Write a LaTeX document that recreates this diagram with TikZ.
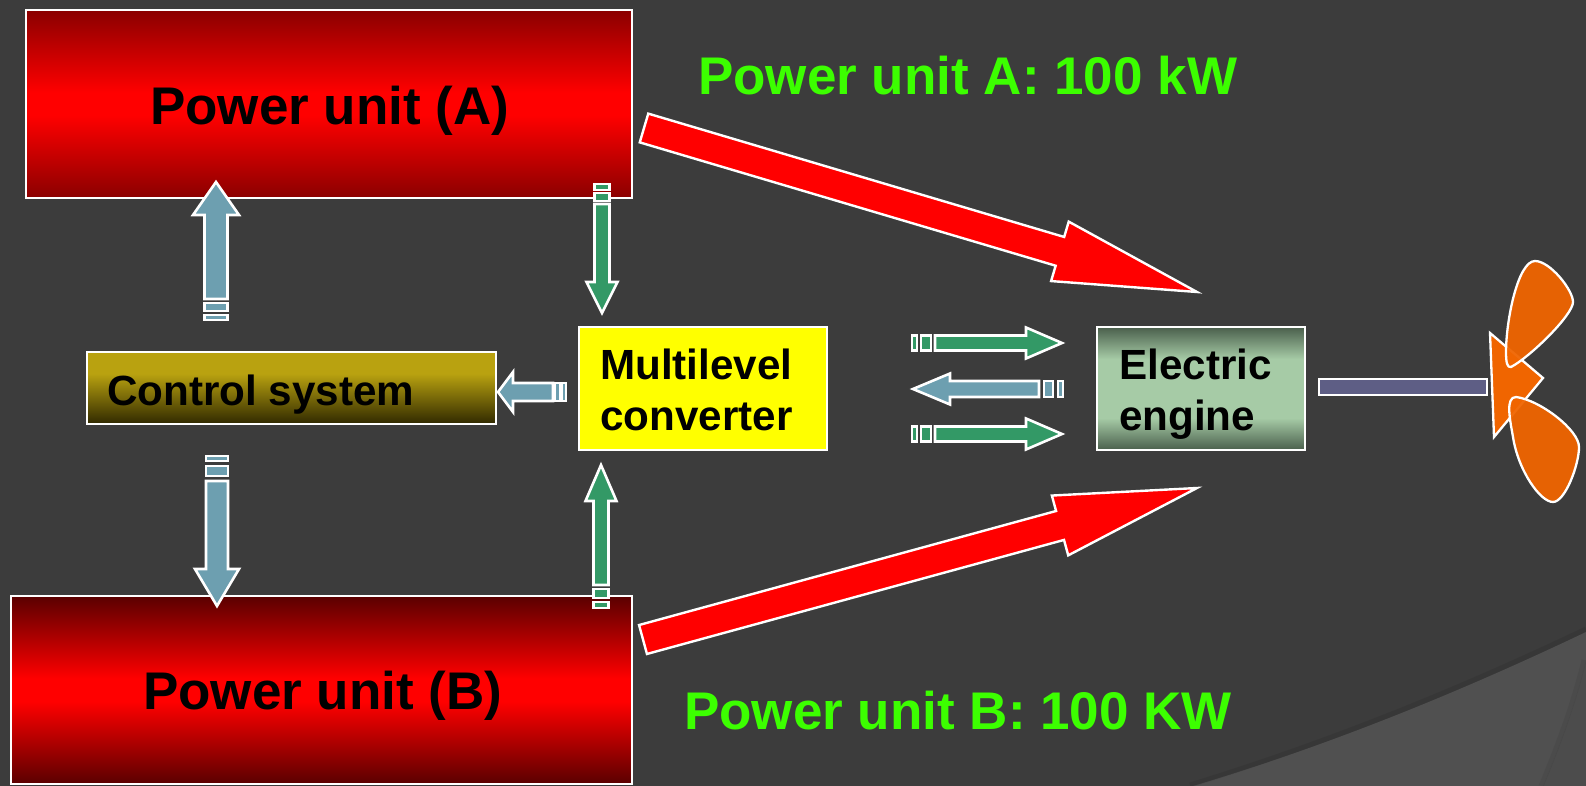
\documentclass[tikz,border=0pt]{standalone}
\usepackage{fontspec}
\setmainfont{Liberation Sans}
\usetikzlibrary{calc}
\definecolor{bg}{HTML}{3C3C3C}
\definecolor{bgfold}{HTML}{505050}
\definecolor{bgfoldb}{HTML}{4C4C4C}
\definecolor{arrowgreen}{HTML}{339966}
\definecolor{arrowblue}{HTML}{6D9FB0}
\definecolor{shaftcol}{HTML}{5E5E85}
\definecolor{propcol}{HTML}{F06500}
\definecolor{labelgreen}{HTML}{3CFF00}
\definecolor{pureyellow}{HTML}{FFFF00}
\definecolor{purered}{HTML}{FF0000}
\definecolor{redA}{HTML}{8A0000}
\definecolor{redB}{HTML}{5A0000}
\definecolor{goldtop}{HTML}{B9A210}
\definecolor{goldbot}{HTML}{302900}
\definecolor{engedge}{HTML}{4A5F4C}
\definecolor{engmid}{HTML}{A6CBA6}
\pgfdeclareverticalshading{shadeA}{100bp}{color(0bp)=(redA); color(25bp)=(redA); color(47bp)=(purered); color(53bp)=(purered); color(75bp)=(redA); color(100bp)=(redA)}
\pgfdeclareverticalshading{shadeB}{100bp}{color(0bp)=(redB); color(25bp)=(redB); color(47bp)=(purered); color(53bp)=(purered); color(75bp)=(redB); color(100bp)=(redB)}
\pgfdeclareverticalshading{shadeCtl}{100bp}{color(0bp)=(goldbot); color(25bp)=(goldbot); color(60bp)=(goldtop); color(75bp)=(goldtop); color(100bp)=(goldtop)}
\pgfdeclareverticalshading{shadeEng}{100bp}{color(0bp)=(engedge); color(25bp)=(engedge); color(38bp)=(engmid); color(62bp)=(engmid); color(75bp)=(engedge); color(100bp)=(engedge)}
\tikzset{
  boxnode/.style={draw=white,line width=2.8pt,inner sep=0pt,outer sep=0pt,anchor=north west,minimum width=#1},
  thinoutline/.style={draw=white,line width=2.6pt,line join=miter},
  greenfill/.style={thinoutline,fill=arrowgreen},
  bluefill/.style={thinoutline,fill=arrowblue},
  redfill/.style={draw=white,line width=2.4pt,fill=purered,line join=miter},
  bigtext/.style={font=\fontsize{53}{60}\selectfont\bfseries,anchor=base west,inner sep=0pt},
  midtext/.style={font=\fontsize{42.2}{50.5}\selectfont\bfseries,anchor=base west,inner sep=0pt,align=left},
  blade/.style={draw=white,line width=2.3pt,fill=propcol,fill opacity=.95,line join=round},
}
% style, from, to, shaft half, head half, head length, end of 1st bit, start of 2nd bit, end of 2nd bit
\newcommand{\segarrow}[9]{%
  \pgfmathsetmacro{\mainstart}{#9+(#8-#7)}%
  \path[#1]
    ($(#2)!\mainstart pt!(#3)!#4pt!90:(#3)$) --
    ($(#3)!#6pt!(#2)!#4pt!90:(#3)$) --
    ($(#3)!#6pt!(#2)!#5pt!90:(#3)$) -- (#3) --
    ($(#3)!#6pt!(#2)!#5pt!-90:(#3)$) --
    ($(#3)!#6pt!(#2)!#4pt!-90:(#3)$) --
    ($(#2)!\mainstart pt!(#3)!#4pt!-90:(#3)$) -- cycle;
  \path[#1]
    ($(#2)!#8pt!(#3)!#4pt!90:(#3)$) -- ($(#2)!#9pt!(#3)!#4pt!90:(#3)$) --
    ($(#2)!#9pt!(#3)!#4pt!-90:(#3)$) -- ($(#2)!#8pt!(#3)!#4pt!-90:(#3)$) -- cycle;
  \path[#1]
    ($(#2)!#4pt!90:(#3)$) -- ($(#2)!#7pt!(#3)!#4pt!90:(#3)$) --
    ($(#2)!#7pt!(#3)!#4pt!-90:(#3)$) -- ($(#2)!#4pt!-90:(#3)$) -- cycle;
}
% style, from, to, shaft half, head half, head length
\newcommand{\solidarrow}[6]{%
  \path[#1]
    ($(#2)!#4pt!90:(#3)$) --
    ($(#3)!#6pt!(#2)!#4pt!90:(#3)$) --
    ($(#3)!#6pt!(#2)!#5pt!90:(#3)$) -- (#3) --
    ($(#3)!#6pt!(#2)!#5pt!-90:(#3)$) --
    ($(#3)!#6pt!(#2)!#4pt!-90:(#3)$) --
    ($(#2)!#4pt!-90:(#3)$) -- cycle;
}
\begin{document}
\begin{tikzpicture}[x=1pt,y=-1pt]
\useasboundingbox (0,0) rectangle (1586,786);
\fill[bg] (0,0) rectangle (1586,786);
% corner folds of the background
\fill[bgfold] (1193,786) .. controls (1330,745) and (1460,692) .. (1586,632) -- (1586,786) -- cycle;
\draw[black,opacity=.07,line width=5pt] (1190,785) .. controls (1330,742) and (1460,689) .. (1586,629);
\fill[bgfoldb] (1543,786) .. controls (1560,745) and (1575,705) .. (1586,660) -- (1586,786) -- cycle;
\draw[black,opacity=.05,line width=5pt] (1541,786) .. controls (1558,745) and (1573,705) .. (1584,660);
% boxes
\node[boxnode=606pt,minimum height=188pt,shading=shadeA] (unitA) at (26,10) {};
\node[boxnode=621pt,minimum height=188pt,shading=shadeB] (unitB) at (11,596) {};
\node[boxnode=409pt,minimum height=72pt,shading=shadeCtl] (ctrl) at (87,352) {};
\node[boxnode=248pt,minimum height=123pt,fill=pureyellow] (conv) at (579,327) {};
\node[boxnode=208pt,minimum height=123pt,shading=shadeEng] (engine) at (1097,327) {};
\node[boxnode=168pt,minimum height=16pt,fill=shaftcol] (shaft) at (1319,379) {};
% arrow end points
\coordinate (upS) at (216,320);   \coordinate (upT) at (216,182);
\coordinate (dnS) at (217,456);   \coordinate (dnT) at (217,606);
\coordinate (aS) at (602,184);    \coordinate (aT) at (602,313);
\coordinate (bS) at (601,608);    \coordinate (bT) at (601,465);
\coordinate (lS) at (566,392);    \coordinate (lT) at (498,392);
\coordinate (r1S) at (912,343);   \coordinate (r1T) at (1062,343);
\coordinate (r2S) at (1063,389);  \coordinate (r2T) at (913,389);
\coordinate (r3S) at (912,434);   \coordinate (r3T) at (1062,434);
\coordinate (redAS) at (644,128); \coordinate (redAT) at (1197,292);
\coordinate (redBS) at (643,639.5); \coordinate (redBT) at (1197,488);
% block arrows
\segarrow{bluefill}{upS}{upT}{11.5}{23}{33}{5}{9}{17}
\segarrow{bluefill}{dnS}{dnT}{11}{22}{37}{5}{10}{20}
\segarrow{greenfill}{aS}{aT}{7.5}{15.5}{31}{6}{9}{17}
\segarrow{greenfill}{bS}{bT}{7.5}{15.5}{36}{6}{10}{19}
\segarrow{bluefill}{lS}{lT}{9}{20}{15}{4}{6}{11}
\segarrow{greenfill}{r1S}{r1T}{7.5}{15.5}{36}{5}{9}{19}
\segarrow{bluefill}{r2S}{r2T}{8}{15.5}{37}{5}{10}{19}
\segarrow{greenfill}{r3S}{r3T}{7.5}{15.5}{36}{5}{9}{19}
\solidarrow{redfill}{redAS}{redAT}{15}{31}{143}
\solidarrow{redfill}{redBS}{redBT}{15}{31}{142}
% propeller
\draw[draw=white,line width=2.3pt,fill=propcol,line join=miter] (1490,333) -- (1543,378) -- (1494,437) -- cycle;
\path[blade] (1511,367) .. controls (1507,368) and (1506,362) .. (1506,352) .. controls (1506,320) and (1518,261) .. (1535,261) .. controls (1550,261) and (1573,290) .. (1573,302) .. controls (1573,315) and (1530,357) .. (1511,367) -- cycle;
\path[blade] (1516,397) .. controls (1505,397) and (1510,420) .. (1513,437) .. controls (1518,470) and (1540,502) .. (1553,502) .. controls (1565,502) and (1579,465) .. (1579,447) .. controls (1579,430) and (1540,400) .. (1516,397) -- cycle;
% labels
\node[bigtext] (tA) at (150,125) {Power unit (A)};
\node[bigtext] (tB) at (143,709.5) {Power unit (B)};
\node[bigtext,text=labelgreen] (gA) at (698,95) {Power unit A: 100 kW};
\node[bigtext,text=labelgreen] (gB) at (684,729) {Power unit B: 100 KW};
\node[midtext] (tC) at (107,405) {Control system};
\node[midtext] (tM) at (600,430) {Multilevel\\converter};
\node[midtext] (tE) at (1119,430) {Electric\\engine};
\end{tikzpicture}
\end{document}
